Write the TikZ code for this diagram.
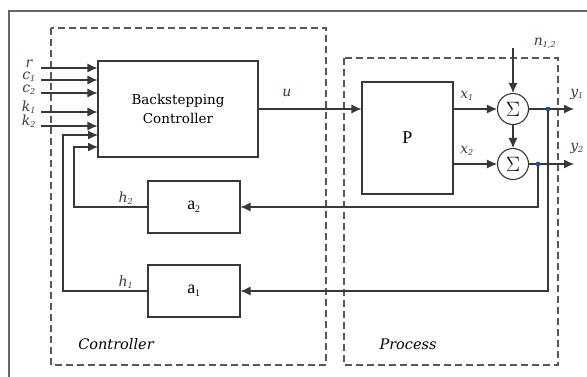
\documentclass[tikz,border=0pt]{standalone}
\usepackage{fontspec}
\setmainfont{Liberation Serif}
\newfontfamily\dvs{DejaVu Serif}
\usetikzlibrary{arrows.meta,calc}
\definecolor{lab}{HTML}{333B57}
\definecolor{ln}{HTML}{383838}
\definecolor{dotc}{HTML}{1F4E9A}
\newcommand{\sbx}[1]{\textsubscript{\fontsize{8}{8}\selectfont #1}}
\newcommand{\sby}[1]{\textsubscript{\fontsize{10}{10}\selectfont #1}}
\begin{document}
\begin{tikzpicture}[x=1pt,y=-1pt,
  conn/.style={draw=ln,line width=1.1pt},
  arr/.style={conn,-{Latex[length=10pt,width=9pt]}},
  blk/.style={draw=ln,line width=1.1pt,rectangle,inner sep=0pt},
  sumnode/.style={draw=ln,line width=1.1pt,circle,minimum size=31pt,inner sep=0pt,font=\fontsize{22}{22}\selectfont},
  lbl/.style={text=lab,font=\dvs\itshape\fontsize{14}{14}\selectfont,inner sep=0pt},
  dashbox/.style={draw=black!65,line width=1.2pt,dash pattern=on 7pt off 4pt},
  jdot/.style={circle,fill=dotc,inner sep=0pt,minimum size=4.5pt}
]
\useasboundingbox (0,0) rectangle (587,376);
\draw[draw=black!60,line width=1.2pt] (9,11) rectangle (600,390);
\draw[dashbox] (51,28) rectangle (326,365);
\draw[dashbox] (344,58) rectangle (558,365);

\node[blk,minimum width=160pt,minimum height=96pt,align=center,font=\dvs\fontsize{13.5}{19}\selectfont] (BC) at (178,109) {Backstepping\\Controller};
\node[blk,minimum width=92pt,minimum height=52pt,font=\fontsize{18}{18}\selectfont] (A2) at (194,207) {a\sby{2}};
\node[blk,minimum width=92pt,minimum height=52pt,font=\fontsize{18}{18}\selectfont] (A1) at (194,291) {a\sby{1}};
\node[blk,minimum width=91pt,minimum height=112pt,font=\fontsize{18}{18}\selectfont] (P) at (407.5,138) {P};
\node[sumnode] (S1) at (513,109) {$\Sigma$};
\node[sumnode] (S2) at (513,164) {$\Sigma$};

% inputs
\foreach \nm/\yy/\tx in {r/68/r, ca/80/c\sbx{1}, cb/93/c\sbx{2}, ka/112/k\sbx{1}, kb/126/k\sbx{2}}{
  \coordinate (in\nm) at (41,\yy);
  \draw[arr] (in\nm) -- (BC.west |- in\nm);
  \node[lbl,anchor=base] (l\nm) at (29,\yy-1) {\tx};
}
% feedbacks
\coordinate (fa) at (74,207);
\coordinate (fb) at (63,291);
\coordinate (ta) at (98,147);
\coordinate (tb) at (98,135);
\draw[arr] (A2.west) -- (fa) -- (fa |- ta) -- (ta);
\draw[arr] (A1.west) -- (fb) -- (fb |- tb) -- (tb);
\node[lbl,anchor=base] (h2) at (126,202) {h\sbx{2}};
\node[lbl,anchor=base] (h1) at (126,286) {h\sbx{1}};

% u
\draw[arr] (BC.east) -- (P.west |- BC.east);
\node[lbl,anchor=base] (u) at (287,96) {u};

% plant outputs
\draw[arr] (P.east |- S1) -- (S1.west);
\draw[arr] (P.east |- S2) -- (S2.west);
\node[lbl,anchor=base] (x1) at (467,98) {x\sbx{1}};
\node[lbl,anchor=base] (x2) at (467,153) {x\sbx{2}};
\coordinate (n0) at (513,48);
\draw[arr] (n0) -- (S1.north);
\node[lbl,anchor=base] (n) at (545,45) {n\sbx{1,2}};
\draw[arr] (S1.south) -- (S2.north);

\coordinate (o1) at (574,109);
\coordinate (o2) at (574,164);
\node[jdot] (d1) at (548,109) {};
\node[jdot] (d2) at (538,164) {};
\draw[arr] (S1.east) -- (o1);
\draw[arr] (S2.east) -- (o2);
\node[lbl,anchor=base] (y1) at (577,96) {y\sbx{1}};
\node[lbl,anchor=base] (y2) at (577,150) {y\sbx{2}};
\draw[arr] (d2.center) -- (d2.center |- A2.east) -- (A2.east);
\draw[arr] (d1.center) -- (d1.center |- A1.east) -- (A1.east);
\node[jdot] at (d1) {};
\node[jdot] at (d2) {};

\node[font=\dvs\itshape\fontsize{14.5}{14.5}\selectfont,inner sep=0pt] (ctl) at (116,344) {Controller};
\node[font=\dvs\itshape\fontsize{14.5}{14.5}\selectfont,inner sep=0pt] (prc) at (408,344) {Process};
\end{tikzpicture}
\end{document}
